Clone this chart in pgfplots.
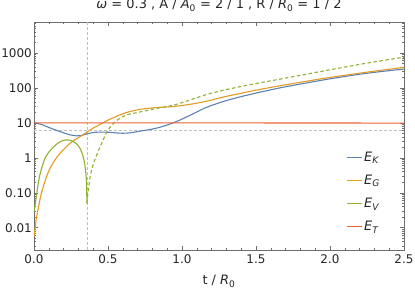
\documentclass[border=0pt]{standalone}
\usepackage{pgfplots}
\pgfplotsset{compat=1.18}
\usepackage{fontspec}
\setmainfont{DejaVu Sans}
\usetikzlibrary{calc}
\definecolor{cK}{RGB}{94,129,181}
\definecolor{cG}{RGB}{225,156,36}
\definecolor{cV}{RGB}{143,176,50}
\definecolor{cT}{RGB}{235,98,53}
\definecolor{frameg}{RGB}{110,110,110}
\definecolor{guide}{RGB}{190,190,190}
\newcommand\tl{\fontsize{12}{14}\selectfont}
\newcommand\tf{\fontsize{13}{15}\selectfont}
\newcommand\lf{\fontsize{13}{15}\selectfont}
\begin{document}
\fontsize{12}{14}\selectfont
\begin{tikzpicture}
\begin{axis}[
  scale only axis, width=370bp, height=228bp,
  ymode=log, xmin=0, xmax=2.5, ymin=0.0023, ymax=7700,
  axis line style={frameg, line width=0.6bp},
  tick align=inside,
  xtick={0,0.5,1,1.5,2,2.5}, xticklabels={{\tl 0.0},{\tl 0.5},{\tl 1.0},{\tl 1.5},{\tl 2.0},{\tl 2.5}},
  minor xtick={0.1,0.2,0.3,0.4,0.6,0.7,0.8,0.9,1.1,1.2,1.3,1.4,1.6,1.7,1.8,1.9,2.1,2.2,2.3,2.4},
  ytick={0.01,0.1,1,10,100,1000}, yticklabels={{\tl 0.01},{\tl 0.10},{\tl 1},{\tl 10},{\tl 100},{\tl 1000}},
  minor ytick={0.003,0.004,0.005,0.006,0.007,0.008,0.009,0.02,0.03,0.04,0.05,0.06,0.07,0.08,0.09,0.2,0.3,0.4,0.5,0.6,0.7,0.8,0.9,2,3,4,5,6,7,8,9,20,30,40,50,60,70,80,90,200,300,400,500,600,700,800,900,2000,3000,4000,5000,6000,7000},
  major tick length=4bp, minor tick length=2.2bp,
  every tick/.style={frameg, line width=0.5bp},
  tick label style={black!85, inner sep=3bp},
  xticklabel style={yshift=-1.5bp},
  yticklabel style={xshift=1bp},
  title={\tf\textit{ω} = 0.3 , A / \textit{A}\textsubscript{0} = 2 / 1 , R / \textit{R}\textsubscript{0} = 1 / 2},
  title style={at={(0.5,1)}, anchor=base, yshift=7.5bp, inner sep=0pt, black!85},
  xlabel={\lf t / \textit{R}\textsubscript{0}},
  xlabel style={at={(0.5,0)}, anchor=base, yshift=-34.5bp, inner sep=0pt, black!85},
  legend style={draw=none, fill=none, at={(0.843,0.254)}, anchor=west, inner sep=0pt,
    nodes={inner sep=2bp}, row sep=8bp, text=black!85},
  legend cell align=left,
  legend image code/.code={\draw[#1, solid, line width=1.1bp] (0bp,0bp) -- (15bp,0bp);},
  every axis plot/.append style={line width=1.1bp},
]
% guides
\addplot[guide, line width=0.7bp, dash pattern=on 3bp off 2bp, forget plot] coordinates {(0.358,0.0023) (0.358,7700)};
\addplot[guide, line width=0.7bp, dash pattern=on 3bp off 2bp, forget plot] coordinates {(0,6.0) (2.5,6.0)};
% E_K
\addplot[cK, smooth, tension=0.5] coordinates {
(0,10.2) (0.03,9.5) (0.063,8.6) (0.1,7.4) (0.153,6.1) (0.2,5.2) (0.243,4.55) (0.288,4.25) (0.32,4.35) (0.356,4.8) (0.39,5.2) (0.424,5.4) (0.47,5.45) (0.514,5.35) (0.56,5.15) (0.6,5.05) (0.65,5.2) (0.716,5.8) (0.77,6.3) (0.83,7.1) (0.885,8.3) (0.94,10) (1.0,12.8) (1.054,16.5) (1.11,21.5) (1.167,28) (1.28,41) (1.39,55) (1.505,72) (1.66,100) (1.8,129) (2.0,182) (2.25,263) (2.5,347)};
\addlegendentry{\lf\textit{E}\textsubscript{\textit{K}}}
% E_G
\addplot[cG, smooth, tension=0.5] coordinates {
(0,0.0055) (0.007,0.009) (0.015,0.018) (0.029,0.036) (0.045,0.08) (0.063,0.15) (0.085,0.29) (0.108,0.5) (0.14,0.85) (0.176,1.35) (0.21,1.9) (0.243,2.6) (0.275,3.25) (0.31,4.0) (0.345,5.0) (0.378,6.2) (0.41,7.5) (0.446,9) (0.48,10.8) (0.514,12.7) (0.56,15.5) (0.62,19.5) (0.716,24.3) (0.83,27.5) (0.94,29.3) (1.054,33.9) (1.167,41.7) (1.28,55) (1.39,69) (1.505,87) (1.66,115) (1.8,145) (2.0,200) (2.25,282) (2.5,389)};
\addlegendentry{\lf\textit{E}\textsubscript{\textit{G}}}
% E_V solid
\addplot[cV, smooth, tension=0.4] coordinates {
(0,0.028) (0.006,0.04) (0.012,0.06) (0.018,0.09) (0.028,0.18) (0.04,0.33) (0.055,0.56) (0.074,0.96) (0.1,1.45) (0.13,2.0) (0.165,2.7) (0.198,3.15) (0.225,3.25) (0.25,3.1) (0.266,2.9) (0.29,2.45) (0.31,1.9) (0.325,1.35) (0.338,0.85) (0.348,0.45) (0.354,0.22) (0.358,0.05)};
\addlegendentry{\lf\textit{E}\textsubscript{\textit{V}}}
% E_V dashed (negative part)
\addplot[cV, smooth, tension=0.4, dash pattern=on 3.5bp off 2.5bp, forget plot] coordinates {
(0.358,0.05) (0.362,0.08) (0.367,0.12) (0.38,0.3) (0.39,0.45) (0.405,0.75) (0.424,1.2) (0.445,2.0) (0.468,3.3) (0.49,5.2) (0.514,7.5) (0.54,10) (0.58,13.5) (0.626,17) (0.716,20.5) (0.83,26) (0.94,32) (1.054,45) (1.167,65) (1.28,86) (1.39,108) (1.505,135) (1.66,178) (1.8,229) (2.0,331) (2.25,513) (2.5,759)};
% E_T
\addplot[cT] coordinates {(0,10) (0.5,10) (1.0,10) (1.5,9.95) (2.0,9.9) (2.5,9.85)};
\addlegendentry{\lf\textit{E}\textsubscript{\textit{T}}}
\end{axis}
\pgfresetboundingbox
\path[use as bounding box] ($(current axis.south west)+(-34bp,-41bp)$) rectangle ($(current axis.north east)+(11bp,22bp)$);
\end{tikzpicture}
\end{document}
